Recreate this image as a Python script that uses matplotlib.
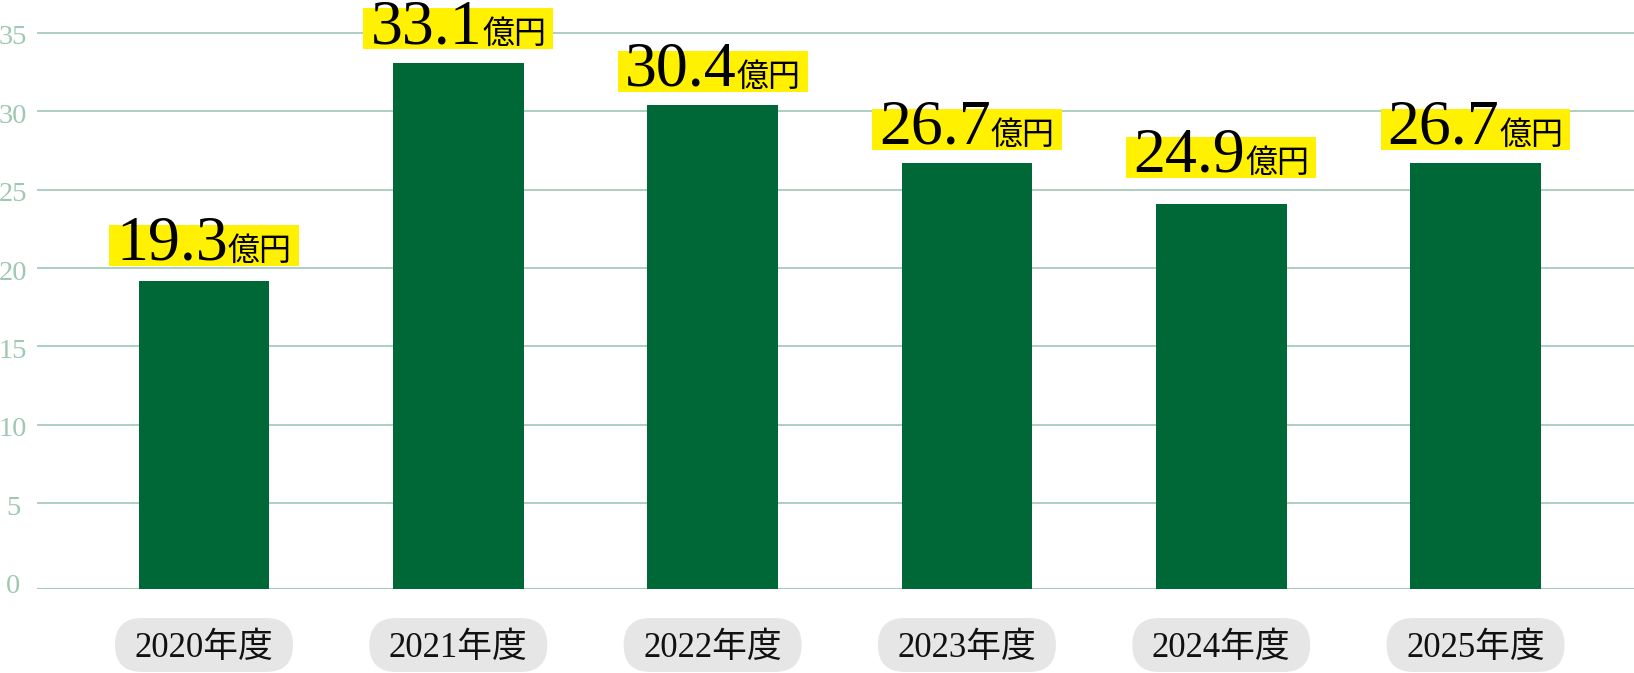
import matplotlib.pyplot as plt
from matplotlib.patches import Rectangle, FancyBboxPatch
from matplotlib.transforms import IdentityTransform, offset_copy

years = ['2020年度', '2021年度', '2022年度', '2023年度', '2024年度', '2025年度']
bar_values = [19.2, 33.1, 30.4, 26.7, 24.1, 26.7]      # bar heights as drawn
label_values = ['19.3', '33.1', '30.4', '26.7', '24.9', '26.7']  # numbers printed above
label_levels = [19.3, 33.1, 30.4, 26.7, 24.9, 26.7]
y_ticks = [0, 5, 10, 15, 20, 25, 30, 35]

W, H = 1634, 673
bar_color = '#006837'
grid_color = '#a6cdb9'
tick_color = '#9ec8b1'
yellow = '#fff100'
pill_color = '#e6e6e6'
base = -0.485  # the baseline sits a little under zero

fig = plt.figure(figsize=(W / 100, H / 100), dpi=100)
ax = fig.add_axes([37.3 / W, 0.1244, 1 - 37.3 / W, 0.8733])
ax.set_xlim(-0.6555, 5.623)
ax.set_ylim(base, 37)
ax.axis('off')

x = list(range(len(years)))
ax.bar(x, [v - base for v in bar_values], bottom=base, width=0.5135,
       color=bar_color, zorder=2)

for v in y_ticks[1:]:
    ax.axhline(v, color=grid_color, lw=1.3, zorder=1)
ax.axhline(base, color=grid_color, lw=1.6, zorder=1)

# y tick labels, centred on x=13px, nudged a bit down
tick_tr = offset_copy(ax.transData, fig=fig, x=0, y=-5, units='dots')
x_lab = -0.6555 - (37.3 - 13) / 254.3
for v in y_ticks:
    ax.text(x_lab, v, str(v), transform=tick_tr, ha='center', va='center',
            fontsize=20.5, family=['Liberation Serif'], color=tick_color,
            clip_on=False)

fig.canvas.draw()
r = fig.canvas.get_renderer()

# value labels on yellow highlight
for i in x:
    cx, by = ax.transData.transform((i, label_levels[i] + 0.85))
    tn = fig.text(0, 0, label_values[i], fontsize=46, family=['Liberation Serif'],
                  color='black', ha='left', va='baseline', zorder=5)
    tu = fig.text(0, 0, '億円', fontsize=23, family=['Noto Sans CJK JP'],
                  color='black', ha='left', va='baseline', zorder=5)
    wn = tn.get_window_extent(r).width
    wu = tu.get_window_extent(r).width
    total = wn + wu
    left = cx - total / 2
    tn.set_position((left / W, (by + 6) / H))
    tu.set_position(((left + wn) / W, (by + 6) / H))
    pad = 7
    fig.add_artist(Rectangle((left - pad, by), total + 2 * pad, 41,
                             transform=IdentityTransform(), color=yellow,
                             lw=0, zorder=4))

# year labels in grey pills
for i in x:
    cx = ax.transData.transform((i, 0))[0]
    fig.add_artist(FancyBboxPatch((cx - 89, H - 672), 178, 54,
                                  boxstyle='round,pad=0,rounding_size=27',
                                  transform=IdentityTransform(),
                                  color=pill_color, lw=0, zorder=4))
    fig.text(cx / W, (H - 657) / H, years[i], fontsize=25,
             family=['Liberation Serif', 'Noto Sans CJK JP'],
             color='#111111', ha='center', va='baseline', zorder=5)

fig.savefig('out.png', dpi=100)
